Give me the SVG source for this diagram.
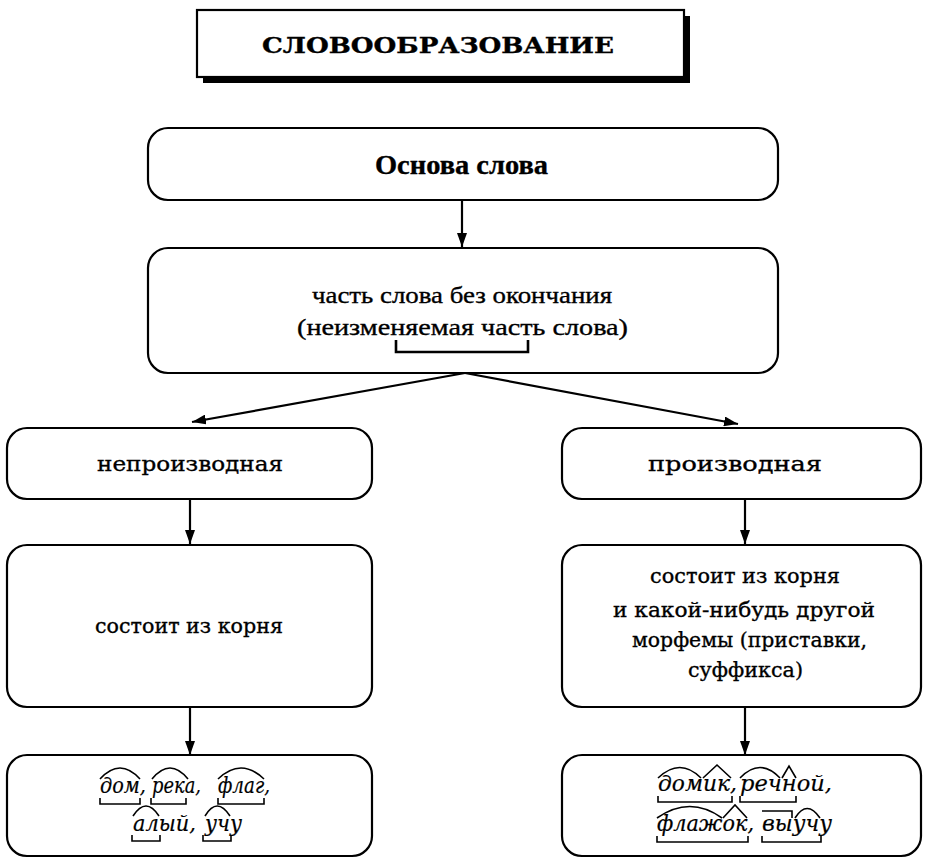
<svg xmlns="http://www.w3.org/2000/svg" width="927" height="859" viewBox="0 0 927 859">
<defs>
<marker id="ah" viewBox="0 0 14 10" refX="14" refY="5" markerWidth="14" markerHeight="10" markerUnits="userSpaceOnUse" orient="auto">
<path d="M0,0 L14,5 L0,10 Z" fill="#000"/>
</marker>
<style>
.box{fill:#fff;stroke:#000;stroke-width:2.2}
.con{stroke:#000;stroke-width:2.2;fill:none;marker-end:url(#ah)}
.t{font-family:"DejaVu Serif","Liberation Serif",serif;fill:#000;stroke:#000;stroke-width:0.35}
.c{font-family:"Liberation Serif","DejaVu Serif",serif;fill:#000;stroke:#000;stroke-width:0.35}
.ex{font-family:"DejaVu Serif","Liberation Serif",serif;font-style:italic;font-size:23px;fill:#000;stroke:#000;stroke-width:0.2}
.mk{fill:none;stroke:#000;stroke-width:1.6}
</style>
</defs>
<rect width="927" height="859" fill="#fff"/>

<g id="title">
<rect x="203" y="16" width="487" height="67" fill="#000"/>
<rect class="box" x="197" y="10" width="487" height="67"/>
<text class="t" x="262" y="53" font-size="22" font-weight="bold" textLength="352" lengthAdjust="spacingAndGlyphs">СЛОВООБРАЗОВАНИЕ</text>
</g>

<g id="connectors">
<line class="con" x1="462" y1="200" x2="462" y2="247"/>
<line class="con" x1="465" y1="373" x2="192" y2="422"/>
<line class="con" x1="465" y1="373" x2="738" y2="424"/>
<line class="con" x1="190" y1="499" x2="190" y2="544"/>
<line class="con" x1="745" y1="499" x2="745" y2="544"/>
<line class="con" x1="190" y1="707" x2="190" y2="755"/>
<line class="con" x1="745" y1="707" x2="745" y2="755"/>
</g>

<g id="osnova">
<rect class="box" x="148" y="128" width="630" height="72" rx="20"/>
<text class="c" x="375" y="174" font-size="27" font-weight="bold" textLength="173" lengthAdjust="spacingAndGlyphs">Основа слова</text>
</g>

<g id="definition">
<rect class="box" x="148" y="248" width="630" height="125" rx="20"/>
<text class="c" x="312" y="303" font-size="24" textLength="300" lengthAdjust="spacingAndGlyphs">часть слова без окончания</text>
<text class="c" x="297" y="335" font-size="24" textLength="331" lengthAdjust="spacingAndGlyphs">(неизменяемая часть слова)</text>
<path d="M396,340 V352 H528 V340" fill="none" stroke="#000" stroke-width="2.6"/>
</g>

<g id="nonderived">
<rect class="box" x="7" y="428" width="365" height="71" rx="20"/>
<text class="t" x="97" y="471" font-size="21" textLength="186" lengthAdjust="spacingAndGlyphs">непроизводная</text>
</g>

<g id="derived">
<rect class="box" x="562" y="428" width="359" height="71" rx="20"/>
<text class="t" x="648" y="471" font-size="21" textLength="174" lengthAdjust="spacingAndGlyphs">производная</text>
</g>

<g id="root-only">
<rect class="box" x="7" y="545" width="365" height="162" rx="20"/>
<text class="t" x="95" y="633" font-size="21" textLength="188" lengthAdjust="spacingAndGlyphs">состоит из корня</text>
</g>

<g id="root-plus">
<rect class="box" x="562" y="545" width="359" height="162" rx="20"/>
<text class="t" x="650" y="583" font-size="21" textLength="190" lengthAdjust="spacingAndGlyphs">состоит из корня</text>
<text class="t" x="613" y="617" font-size="21" textLength="262" lengthAdjust="spacingAndGlyphs">и какой-нибудь другой</text>
<text class="t" x="632" y="647" font-size="21" textLength="235" lengthAdjust="spacingAndGlyphs">морфемы (приставки,</text>
<text class="t" x="688" y="677" font-size="21" textLength="115" lengthAdjust="spacingAndGlyphs">суффикса)</text>
</g>

<g id="examples-nonderived">
<rect class="box" x="7" y="755" width="365" height="101" rx="20"/>
<text class="ex" x="100" y="793" textLength="46" lengthAdjust="spacingAndGlyphs">дом,</text>
<text class="ex" x="152" y="793" textLength="49" lengthAdjust="spacingAndGlyphs">река,</text>
<text class="ex" x="218" y="793" textLength="52" lengthAdjust="spacingAndGlyphs">флаг,</text>
<text class="ex" x="133" y="831" textLength="63" lengthAdjust="spacingAndGlyphs">алый,</text>
<text class="ex" x="205" y="831" textLength="37" lengthAdjust="spacingAndGlyphs">учу</text>
<path class="mk" d="M100,779 Q120,757 140,779 M152,779 Q170,757 188,779 M218,779 Q241,757 264,779 M133,816 Q146,796 159,816 M205,816 Q217,796 230,816"/>
<path class="mk" d="M100,798 V804 H140 V798 M151,798 V804 H186 V798 M218,798 V804 H264 V798 M132,835 V841 H160 V835 M203,835 V841 H231 V835"/>
</g>

<g id="examples-derived">
<rect class="box" x="562" y="755" width="359" height="101" rx="20"/>
<text class="ex" x="658" y="791" textLength="79" lengthAdjust="spacingAndGlyphs">домик,</text>
<text class="ex" x="740" y="791" textLength="92" lengthAdjust="spacingAndGlyphs">речной,</text>
<text class="ex" x="657" y="831" textLength="97" lengthAdjust="spacingAndGlyphs">флажок,</text>
<text class="ex" x="762" y="831" textLength="70" lengthAdjust="spacingAndGlyphs">выучу</text>
<path class="mk" d="M658,778 Q680,757 701,778 M703,778 L717,765 L731,778 M740,778 Q760,757 780,778 M782,778 L789,766 L796,778 M657,818 Q690,795 722,818 M723,818 L735,805 L747,818 M795,818 Q807,799 820,818 M762,811 H792 V818"/>
<path class="mk" d="M658,796 V802 H732 V796 M740,796 V802 H796 V796 M657,836 V842 H748 V836 M762,836 V842 H821 V836"/>
</g>
</svg>
